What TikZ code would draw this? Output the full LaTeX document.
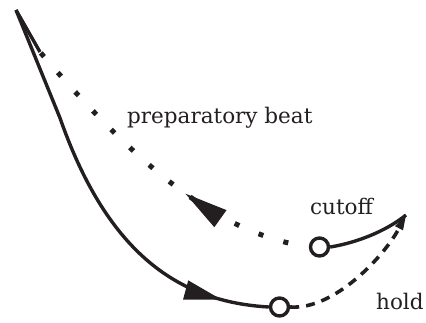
\documentclass[tikz,border=0pt]{standalone}
\usepackage{fontspec}
\setmainfont{DejaVu Serif}
\usetikzlibrary{arrows.meta,decorations.markings}
\definecolor{ink}{RGB}{35,31,32}
\begin{document}
\begin{tikzpicture}[x=1pt,y=-1pt,
  beat/.style={draw=ink, line width=3.4pt},
  openpt/.style={circle, draw=ink, fill=white, line width=3.4pt, minimum size=18pt, inner sep=0pt},
  lbl/.style={anchor=base west, inner sep=0pt, text=ink, font=\fontsize{21.5}{26}\selectfont},
  dots/.style={draw=ink, line width=5pt, dash pattern=on 5pt off 21pt, dash phase=5pt},
  dashes/.style={draw=ink, line width=3.6pt, dash pattern=on 9pt off 7pt},
  midarrow/.style n args={2}{postaction={decorate}, decoration={markings, mark=at position #1 with {\arrow{#2}}}}]
\useasboundingbox (0,0) rectangle (426,322);
\coordinate (top) at (16,10);
\coordinate (bend) at (60,118);
\coordinate (dotend) at (40,52);
\coordinate (tipR) at (406,215);
\node[openpt] (cut) at (319.5,247) {};
\node[openpt] (holdpt) at (279.5,307) {};
% downbeat
\path[beat, midarrow={0.885}{Triangle[length=37pt,width=20pt,line width=0pt]}]
  (top) -- (bend) .. controls (108,255) and (180,302) .. (holdpt.west);
% preparatory beat
\path[dots, midarrow={0.4}{Triangle[length=43pt,width=21pt,line width=0pt]}]
  (cut.west) .. controls (221,233.5) and (144,173.6) .. (dotend);
\draw[beat] (dotend) -- (top);
% hold
\draw[dashes, -{Triangle[length=15pt,width=9pt,line width=0pt]}]
  (holdpt.east) .. controls (335,310) and (385,255) .. (tipR);
% cutoff
\draw[beat] (cut.east) .. controls (355,243) and (385,232) .. (tipR);
\node[lbl] (lprep) at (127,123) {preparatory beat};
\node[lbl] (lcut) at (310,214) {cutoff};
\node[lbl] (lhold) at (376,309) {hold};
\end{tikzpicture}
\end{document}
